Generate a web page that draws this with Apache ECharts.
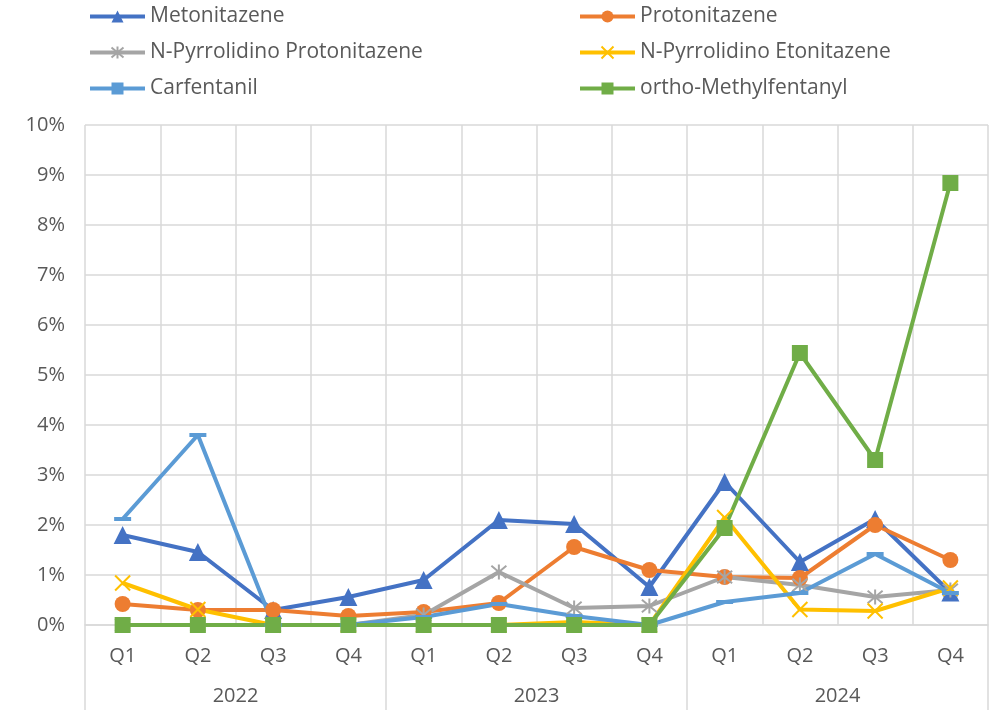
<!DOCTYPE html>
<html>
<head>
<meta charset="utf-8">
<script src="https://cdn.jsdelivr.net/npm/echarts@6/dist/echarts.min.js"></script>
<style>
html,body{margin:0;padding:0;background:#fff;}
#chart{width:998px;height:710px;}
</style>
</head>
<body>
<div id="chart"></div>
<script>
const quarters = ['Q1','Q2','Q3','Q4','Q1','Q2','Q3','Q4','Q1','Q2','Q3','Q4'];
const years = ['2022','2023','2024'];
const yTicks = [0,1,2,3,4,5,6,7,8,9,10];

const metonitazene = [1.8, 1.46, 0.3, 0.56, 0.9, 2.1, 2.02, 0.76, 2.86, 1.26, 2.12, 0.65];
const protonitazene = [0.42, 0.3, 0.3, 0.18, 0.26, 0.44, 1.56, 1.1, 0.96, 0.94, 2.0, 1.3];
const nPyrProto = [0, 0, 0, 0, 0.2, 1.06, 0.34, 0.38, 0.96, 0.8, 0.56, 0.7];
const nPyrEto = [0.84, 0.31, 0, 0, 0, 0, 0.06, 0, 2.15, 0.31, 0.28, 0.74];
const carfentanil = [2.12, 3.8, 0, 0, 0.16, 0.42, 0.18, 0, 0.46, 0.64, 1.42, 0.64];
const orthoMF = [0, 0, 0, 0, 0, 0, 0, 0, 1.94, 5.44, 3.3, 8.84];

const FONT = 'Open Sans';
const TXT = '#595959';
const GRID = '#D9D9D9';

function mk(name, data, color, symbol, size, extra) {
  return Object.assign({
    name: name, type: 'line', data: data,
    symbol: symbol, symbolSize: size,
    showSymbol: true,
    lineStyle: {color: color, width: 4},
    itemStyle: {color: color, borderColor: color, borderWidth: 0},
    emphasis: {disabled: true},
    animation: false
  }, extra || {});
}

const series = [
  mk('Metonitazene', metonitazene, '#4472C4', 'triangle', 18),
  mk('Protonitazene', protonitazene, '#ED7D31', 'circle', 16),
  mk('N-Pyrrolidino Protonitazene', nPyrProto, '#A5A5A5', 'path://M0,0L10,10M10,0L0,10M5,-1L5,11', 15,
     {itemStyle: {color: '#A5A5A5', borderColor: '#A5A5A5', borderWidth: 2}}),
  mk('N-Pyrrolidino Etonitazene', nPyrEto, '#FFC000', 'path://M0,0L10,10M10,0L0,10', 15,
     {itemStyle: {color: '#FFC000', borderColor: '#FFC000', borderWidth: 2}}),
  mk('Carfentanil', carfentanil, '#5B9BD5', 'rect', [17, 4]),
  mk('ortho-Methylfentanyl', orthoMF, '#70AD47', 'rect', 16)
];

const legendCommon = {
  orient: 'vertical', top: 1, itemWidth: 55, itemHeight: 15, itemGap: 15,
  lineStyle: {width: 4},
  textStyle: {fontFamily: FONT, fontSize: 21, color: TXT},
  selectedMode: false
};

const chart = echarts.init(document.getElementById('chart'), null, {renderer: 'canvas'});
chart.setOption({
  animation: false,
  backgroundColor: '#fff',
  legend: [
    Object.assign({left: 83, data: ['Metonitazene','N-Pyrrolidino Protonitazene','Carfentanil']}, legendCommon),
    Object.assign({left: 573, data: ['Protonitazene','N-Pyrrolidino Etonitazene','ortho-Methylfentanyl']}, legendCommon)
  ],
  grid: {left: 85, right: 10, top: 125, bottom: 85, containLabel: false},
  xAxis: [
    {
      type: 'category', data: quarters, boundaryGap: true, position: 'bottom',
      axisLine: {show: true, lineStyle: {color: GRID, width: 1.5}},
      axisTick: {show: false},
      splitLine: {show: true, interval: 0, lineStyle: {color: GRID, width: 1.5}},
      axisLabel: {interval: 0, margin: 21, fontFamily: FONT, fontSize: 20, color: TXT}
    },
    {
      type: 'category', data: years, boundaryGap: true, position: 'bottom',
      axisLine: {show: false},
      axisTick: {show: true, interval: 0, length: 85, lineStyle: {color: GRID, width: 1.5}},
      splitLine: {show: false},
      axisLabel: {interval: 0, margin: 61, fontFamily: FONT, fontSize: 20, color: TXT}
    }
  ],
  yAxis: {
    type: 'value', min: 0, max: 10, interval: 1,
    axisLine: {show: false}, axisTick: {show: false},
    splitLine: {show: true, lineStyle: {color: GRID, width: 1.5}},
    axisLabel: {formatter: '{value}%', margin: 20, fontFamily: FONT, fontSize: 20, color: TXT}
  },
  series: series
});
</script>
</body>
</html>
